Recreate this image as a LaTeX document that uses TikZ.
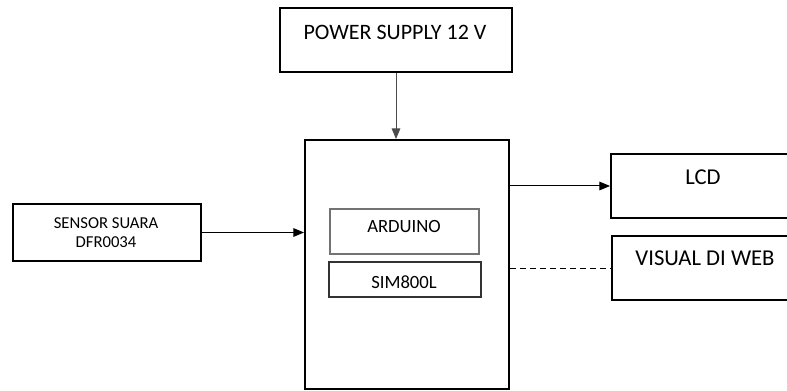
\documentclass[tikz,border=0pt]{standalone}
\usepackage{fontspec}
\setmainfont{Carlito}
\usetikzlibrary{arrows.meta}

\tikzset{
  blok/.style={draw,line width=1.5pt,inner sep=0pt,rectangle},
  modul/.style={draw,inner sep=0pt,rectangle},
  teks/.style={inner sep=0pt,anchor=center},
  panah/.style={-{Triangle[length=8pt,width=6.5pt]},line width=0.75pt}
}

\begin{document}
\begin{tikzpicture}[x=0.75pt,y=-0.75pt]
        \useasboundingbox (0,0) rectangle (787,391);
        \clip (0,0) rectangle (787,391);

        % boxes (sizes in pt = px * 0.75)
        \node[blok,minimum width=174pt,minimum height=48pt] (psu) at (396,40) {};
        \node[blok,minimum width=153pt,minimum height=186.75pt] (mcu) at (407,264.5) {};
        \node[blok,minimum width=141pt,minimum height=42.75pt] (snd) at (107,232.5) {};
        \node[blok,minimum width=157.5pt,minimum height=48pt] (lcd) at (716,186) {};
        \node[blok,minimum width=157.5pt,minimum height=48pt] (web) at (717,268) {};
        \node[modul,draw=black!55,line width=0.9pt,minimum width=111.75pt,minimum height=33.75pt] (ard) at (404.5,231.5) {};
        \node[modul,draw=black!80,line width=1.1pt,minimum width=114pt,minimum height=26.25pt] (gsm) at (405,279.5) {};

        % labels
        \node[teks,font=\fontsize{16.5}{18}\selectfont] at (395,32) {POWER SUPPLY 12 V};
        \node[teks,font=\fontsize{12.5}{14}\selectfont] at (106,223) {SENSOR SUARA};
        \node[teks,font=\fontsize{12.5}{14}\selectfont] at (106,242) {DFR0034};
        \node[teks,font=\fontsize{14}{16}\selectfont] at (404,227) {ARDUINO};
        \node[teks,font=\fontsize{14}{16}\selectfont] at (404,282) {SIM800L};
        \node[teks,font=\fontsize{17}{19}\selectfont] at (703,177) {LCD};
        \node[teks,font=\fontsize{17}{19}\selectfont] at (705,258) {VISUAL DI WEB};

        % connectors
        \draw[panah,black!70] (psu.south) -- (psu.south |- mcu.north);
        \draw[panah] (snd.east) -- (snd.east -| mcu.west);
        \draw[panah] (lcd.west -| mcu.east) -- (lcd.west);
        \draw[dashed,line width=0.75pt,dash pattern=on 4.5pt off 3pt] (web.west -| mcu.east) -- (web.west);
    \end{tikzpicture}
\end{document}
